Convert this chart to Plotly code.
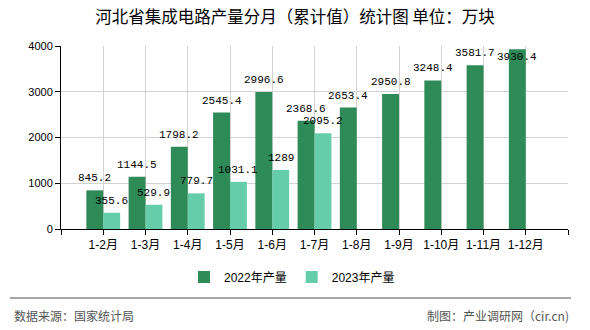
import plotly.graph_objects as go

categories = ["1-2月", "1-3月", "1-4月", "1-5月", "1-6月", "1-7月",
              "1-8月", "1-9月", "1-10月", "1-11月", "1-12月"]
values_2022 = [845.2, 1144.5, 1798.2, 2545.4, 2996.6, 2368.6,
               2653.4, 2950.8, 3248.4, 3581.7, 3930.4]
values_2023 = [355.6, 529.9, 779.7, 1031.1, 1289, 2095.2,
               None, None, None, None, None]
series_names = ["2022年产量", "2023年产量"]
y_ticks = [0, 1000, 2000, 3000, 4000]
Y_MAX = 4000

DARK = "#2E8B57"
LIGHT = "#66CDAA"
xpos = list(range(1, len(categories) + 1))

L, R, T, B = 61, 22, 46, 101
W, H = 590, 330
pw, ph = W - L - R, H - T - B


def px_x(p):
    return (p - L) / pw


def px_y(p):
    return (H - B - p) / ph


fig = go.Figure()
fig.add_trace(go.Bar(x=xpos, y=values_2022, name=series_names[0],
                     marker=dict(color=DARK, line=dict(width=0))))
fig.add_trace(go.Bar(x=xpos, y=values_2023, name=series_names[1],
                     marker=dict(color=LIGHT, line=dict(width=0))))


def fmt(v):
    return "%g" % v


def label_shift(v):
    # label centre normally 12px above bar top; if it would leave the plot, move it inside
    top_px = (1 - v / Y_MAX) * ph
    return 12 if top_px - 18 >= 0 else -8


label_font = dict(family="Liberation Mono", size=11, color="#000")
annotations = []
for x, v in zip(xpos, values_2022):
    annotations.append(dict(x=x - 0.2, y=v, xref="x", yref="y", text=fmt(v),
                            showarrow=False, yshift=label_shift(v), yanchor="middle",
                            font=label_font))
for x, v in zip(xpos, values_2023):
    if v is None:
        continue
    annotations.append(dict(x=x + 0.2, y=v, xref="x", yref="y", text=fmt(v),
                            showarrow=False, yshift=label_shift(v), yanchor="middle",
                            font=label_font))

annotations.append(dict(x=px_x(12), y=px_y(315), xref="paper", yref="paper",
                        text="数据来源：国家统计局",
                        showarrow=False, xanchor="left", yanchor="middle",
                        font=dict(family="Noto Sans CJK SC", size=12, color="#555")))
annotations.append(dict(x=px_x(571), y=px_y(315), xref="paper", yref="paper",
                        text="制图：产业调研网（cir.cn)",
                        showarrow=False, xanchor="right", yanchor="middle",
                        font=dict(family="Noto Sans CJK SC", size=12, color="#555")))

fig.update_layout(
    width=W, height=H,
    margin=dict(l=L, r=R, t=T, b=B, pad=0),
    paper_bgcolor="white", plot_bgcolor="white",
    barmode="group", bargap=0.2, bargroupgap=0,
    title=dict(text="河北省集成电路产量分月（累计值）统计图 单位：万块",
               x=0.5, xref="container", xanchor="center",
               y=1 - 17 / H, yref="container", yanchor="middle",
               font=dict(family="Noto Sans CJK SC", size=16.5, color="#000")),
    legend=dict(orientation="h", x=px_x(292), xanchor="center",
                y=px_y(277), yanchor="middle",
                font=dict(family="Liberation Sans, Noto Sans CJK SC", size=12, color="#000"),
                itemclick=False, bgcolor="rgba(0,0,0,0)"),
    annotations=annotations,
    shapes=[dict(type="line", xref="paper", yref="paper",
                 x0=px_x(10), x1=px_x(571), y0=px_y(298), y1=px_y(298),
                 line=dict(color="#888", width=1.5))],
    showlegend=True,
)

fig.update_xaxes(
    range=[0, 12],
    tickmode="array",
    tickvals=[0] + xpos + [12],
    ticktext=[""] + categories + [""],
    showgrid=True, gridcolor="#d3d3d3", gridwidth=1,
    showline=True, linecolor="#000", linewidth=1,
    ticks="outside", ticklen=5, tickcolor="#000",
    tickfont=dict(family="Liberation Sans, Noto Sans CJK SC", size=12, color="#000"),
    zeroline=False, fixedrange=True,
)
fig.update_yaxes(
    range=[0, Y_MAX],
    tickmode="array", tickvals=y_ticks,
    showgrid=True, gridcolor="#d3d3d3", gridwidth=1,
    showline=True, linecolor="#000", linewidth=1,
    ticks="outside", ticklen=5, tickcolor="#000",
    tickfont=dict(family="Liberation Sans", size=11, color="#000"),
    zeroline=False, fixedrange=True,
)

fig.write_html("out.html")
